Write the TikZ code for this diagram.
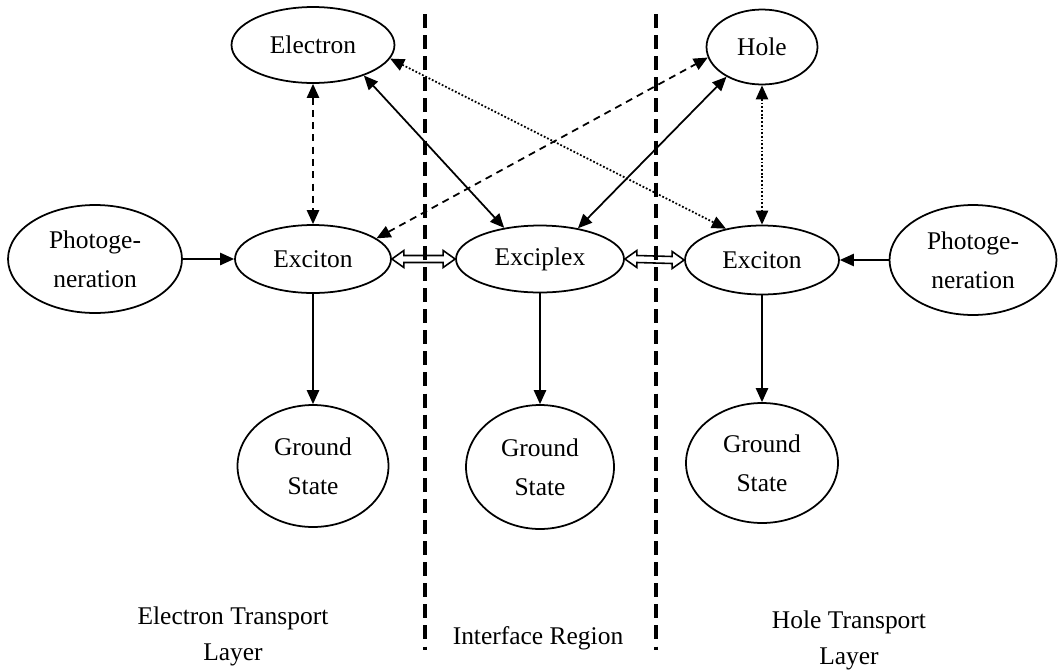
\documentclass[tikz,border=0pt]{standalone}
\usepackage{fontspec}
\setmainfont{Liberation Serif}
\usetikzlibrary{arrows.meta,shapes.geometric,calc}
\begin{document}
\begin{tikzpicture}[x=0.02cm,y=-0.02cm,
  st/.style={ellipse,draw,line width=1pt,inner sep=0pt,align=center,fill=white,
    font=\fontsize{14.5}{22}\selectfont},
  lbl/.style={align=center,font=\fontsize{14.5}{20.5}\selectfont},
  tip/.style={-{Triangle[length=8pt,width=7pt]}},
  bitip/.style={{Triangle[length=8pt,width=7pt]}-{Triangle[length=8pt,width=7pt]}},
  conn/.style={line width=1pt},
  dsh/.style={dash pattern=on 4pt off 3pt},
  dotl/.style={dash pattern=on 1pt off 1.1pt},
  dblarr/.style={draw, fill=white, line width=0.9pt, line join=miter},
  sep/.style={line width=2pt, dash pattern=on 8pt off 4pt}
]
\useasboundingbox (0,0) rectangle (1058,670);

% nodes
\node[st,minimum width=3.26cm,minimum height=1.52cm] (el) at (313,45) {Electron};
\node[st,minimum width=2.22cm,minimum height=1.5cm] (ho) at (762,47) {Hole};
\node[st,minimum width=3.48cm,minimum height=2.16cm] (pl) at (95,259) {Photoge-\\neration};
\node[st,minimum width=3.12cm,minimum height=1.36cm] (exl) at (313,259) {Exciton};
\node[st,minimum width=3.36cm,minimum height=1.34cm] (exc) at (540,259) {Exciplex};
\node[st,minimum width=3.08cm,minimum height=1.38cm] (exr) at (762,260) {Exciton};
\node[st,minimum width=3.34cm,minimum height=2.2cm] (pr) at (973,260) {Photoge-\\neration};
\node[st,minimum width=3.02cm,minimum height=2.44cm] (gsl) at (313,466) {Ground\\State};
\node[st,minimum width=2.96cm,minimum height=2.48cm] (gsc) at (540,467) {Ground\\State};
\node[st,minimum width=3.04cm,minimum height=2.4cm] (gsr) at (762,463) {Ground\\State};

% connectors
\draw[conn,tip] (pl) -- (exl);
\draw[conn,tip] (pr) -- (exr);
\draw[conn,tip] (exl) -- (gsl);
\draw[conn,tip] (exc) -- (gsc);
\draw[conn,tip] (exr) -- (gsr);
\draw[conn,bitip,dsh] (el) -- (exl);
\draw[conn,bitip,dotl] (ho) -- (exr);
\draw[conn,bitip] (el.-31) -- (exc.139);
\draw[conn,bitip,dotl] (el.-10) -- (exr.139);
\draw[conn,bitip,dsh] (exl.18) -- (ho.191);
\draw[conn,bitip] (exc.39) -- (ho.220);

% hollow double arrows
\coordinate (a1) at (exl.east); \coordinate (b1) at (exc.west);
\coordinate (a2) at (exc.east); \coordinate (b2) at (exr.west);
\foreach \A/\B in {a1/b1,a2/b2}{
  \draw[dblarr] (\A) -- ($(\A)+(12,-8.5)$) -- ($(\A)+(12,-3.5)$) -- ($(\B)+(-12,-3.5)$)
    -- ($(\B)+(-12,-8.5)$) -- (\B) -- ($(\B)+(-12,8.5)$) -- ($(\B)+(-12,3.5)$)
    -- ($(\A)+(12,3.5)$) -- ($(\A)+(12,8.5)$) -- cycle;
}

% separators
\coordinate (s1t) at (425,14); \coordinate (s1b) at (425,650);
\coordinate (s2t) at (656,14); \coordinate (s2b) at (656,650);
\draw[sep] (s1t) -- (s1b);
\draw[sep] (s2t) -- (s2b);

% labels
\node[lbl] (etl) at (233,636) {Electron Transport\\Layer};
\node[lbl] (ir) at (538,638) {Interface Region};
\node[lbl] (htl) at (849,640) {Hole Transport\\Layer};
\end{tikzpicture}
\end{document}
